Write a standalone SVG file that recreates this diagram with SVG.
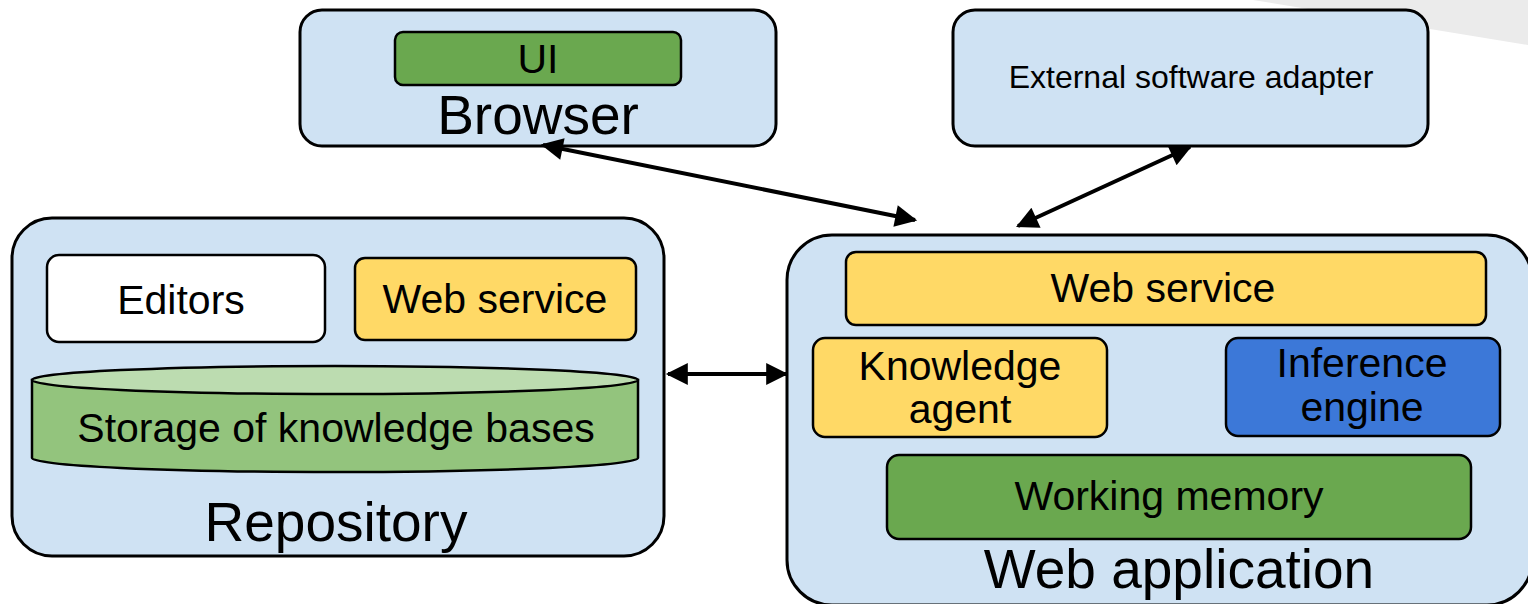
<svg xmlns="http://www.w3.org/2000/svg" width="1528" height="604" viewBox="0 0 1528 604">
  <style>
    text { font-family: "Liberation Sans", Arial, sans-serif; fill: #000; text-anchor: middle; }
    .container { fill: #cfe2f3; stroke: #000; stroke-width: 3; }
    .part { stroke: #000; stroke-width: 2.5; }
    .yellow { fill: #ffd966; }
    .green { fill: #6aa84f; }
    .blue { fill: #3c78d8; }
    .white { fill: #ffffff; }
    .big { font-size: 55px; }
    .mid { font-size: 41px; }
    .small { font-size: 32px; }
    .link { stroke: #000; stroke-width: 4; fill: none; marker-start: url(#head); marker-end: url(#head); }
  </style>
  <defs>
    <marker id="head" viewBox="0 0 10 10" refX="9" refY="5" markerWidth="6.5" markerHeight="5.5" markerUnits="strokeWidth" orient="auto-start-reverse">
      <path d="M0,0 L10,5 L0,10 Z" fill="#000"/>
    </marker>
  </defs>

  <rect width="1528" height="604" fill="#fff"/>
  <!-- pale backdrop in the upper right corner -->
  <polygon points="1253,0 1528,0 1528,45" fill="#ebebeb"/>

  <g id="browser">
    <rect class="container" x="300" y="10" width="476" height="136" rx="22"/>
    <rect class="part green" x="395" y="32" width="286" height="53" rx="8"/>
    <text class="mid" x="538" y="73">UI</text>
    <text class="big" x="538" y="134">Browser</text>
  </g>

  <g id="external-adapter">
    <rect class="container" x="953" y="10" width="475" height="136" rx="22"/>
    <text class="small" x="1191" y="88">External software adapter</text>
  </g>

  <g id="repository">
    <rect class="container" x="12" y="218" width="652" height="338" rx="40"/>
    <rect class="part white" x="47" y="255" width="278" height="87" rx="12"/>
    <text class="mid" x="181" y="314">Editors</text>
    <rect class="part yellow" x="355" y="258" width="281" height="82" rx="10"/>
    <text class="mid" x="495" y="313">Web service</text>
    <!-- storage cylinder -->
    <path class="part" fill="#93c47d" d="M32,380 L32,458 A303,14 0 0 0 638,458 L638,380 Z"/>
    <ellipse class="part" fill="#bcdcb0" cx="335" cy="380" rx="303" ry="14"/>
    <text class="mid" x="336" y="442">Storage of knowledge bases</text>
    <text class="big" x="336" y="541">Repository</text>
  </g>

  <g id="web-application">
    <rect class="container" x="787" y="235" width="745" height="370" rx="45"/>
    <rect class="part yellow" x="846" y="252" width="640" height="73" rx="10"/>
    <text class="mid" x="1163" y="302">Web service</text>
    <rect class="part yellow" x="813" y="338" width="294" height="99" rx="12"/>
    <text class="mid" x="960" y="380">Knowledge</text>
    <text class="mid" x="960" y="423">agent</text>
    <rect class="part blue" x="1226" y="338" width="274" height="98" rx="12"/>
    <text class="mid" x="1362" y="377">Inference</text>
    <text class="mid" x="1362" y="421">engine</text>
    <rect class="part green" x="887" y="455" width="584" height="84" rx="12"/>
    <text class="mid" x="1169" y="510">Working memory</text>
    <text class="big" x="1179" y="588">Web application</text>
  </g>

  <g id="connectors">
    <line class="link" x1="543" y1="145" x2="915" y2="220"/>
    <line class="link" x1="1190" y1="147" x2="1018" y2="226"/>
    <line class="link" x1="668" y1="374" x2="786" y2="374"/>
  </g>
</svg>
